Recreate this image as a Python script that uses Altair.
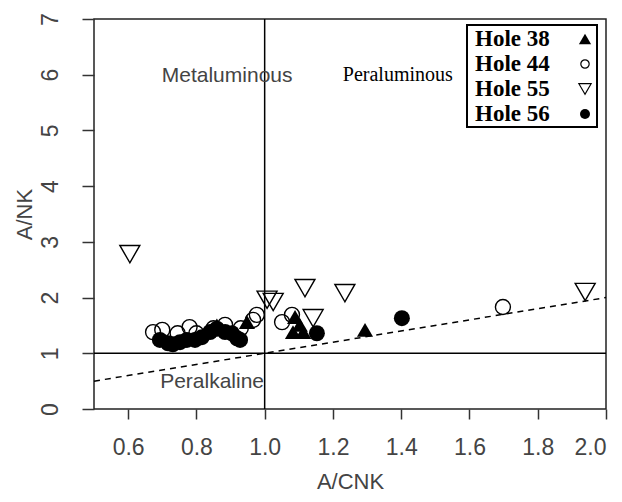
import altair as alt
import pandas as pd

# ---- data ----
hole_names = ["Hole 38", "Hole 44", "Hole 55", "Hole 56"]

x38 = [0.86, 0.948, 1.083, 1.089, 1.103, 1.113, 1.294]
y38 = [1.50, 1.56, 1.38, 1.65, 1.51, 1.38, 1.42]

x44 = [0.673, 0.70, 0.745, 0.78, 0.80, 0.85, 0.884, 0.93, 0.966, 0.977, 1.051, 1.08, 1.698]
y44 = [1.38, 1.42, 1.36, 1.47, 1.36, 1.45, 1.51, 1.45, 1.60, 1.69, 1.56, 1.69, 1.83]

x55 = [0.605, 1.007, 1.025, 1.118, 1.142, 1.235, 1.939]
y55 = [2.78, 1.96, 1.92, 2.17, 1.63, 2.08, 2.10]

x56 = [0.693, 0.717, 0.731, 0.752, 0.772, 0.796, 0.816, 0.84, 0.86, 0.884, 0.904, 0.919, 0.928, 1.153, 1.402]
y56 = [1.24, 1.18, 1.16, 1.20, 1.24, 1.24, 1.29, 1.38, 1.44, 1.38, 1.36, 1.27, 1.24, 1.36, 1.63]

ref_x = [1.0]          # vertical divider A/CNK = 1
ref_y = [1.0]          # horizontal divider A/NK = 1
diag_x = [0.5, 2.0]    # dashed line A/NK = A/CNK
diag_y = [0.5, 2.0]

label_text = ["Metaluminous", "Peraluminous", "Peralkaline"]
label_x = [0.89, 1.39, 0.846]
label_y = [5.98, 6.0, 0.48]

x_ticks = [0.6, 0.8, 1.0, 1.2, 1.4, 1.6, 1.8, 2.0]
y_ticks = [0, 1, 2, 3, 4, 5, 6, 7]

# ---- scales / axes ----
xs = alt.Scale(domain=[0.5, 2.0], nice=False, zero=False)
ys = alt.Scale(domain=[0, 7], nice=False, zero=False)

GRAY = "#444444"
xax = alt.Axis(values=x_ticks, format=".1f", title="A/CNK", grid=False, domain=False,
               tickSize=10, tickWidth=1.5, tickColor="#333333",
               labelFont="Liberation Sans", labelFontSize=23, labelColor=GRAY,
               labelPadding=17, titleFont="Liberation Sans", titleFontSize=22,
               titleFontWeight="normal", titleColor=GRAY, titlePadding=12)
yax = alt.Axis(values=y_ticks, format="d", title="A/NK", grid=False, domain=False,
               tickSize=12, tickWidth=1.5, tickColor="#333333",
               labelFont="Liberation Sans", labelFontSize=23, labelColor=GRAY,
               labelAngle=270, labelAlign="center", labelBaseline="bottom",
               labelPadding=20, titleFont="Liberation Sans", titleFontSize=22,
               titleFontWeight="normal", titleColor=GRAY, titlePadding=3)


def pts(xv, yv, shape, filled, size):
    df = pd.DataFrame({"x": xv, "y": yv})
    if filled:
        m = alt.Chart(df).mark_point(shape=shape, filled=True, color="black", size=size, opacity=1)
    else:
        m = alt.Chart(df).mark_point(shape=shape, filled=False, color="black", size=size,
                                     strokeWidth=1.4, opacity=1)
    return m.encode(x=alt.X("x:Q", scale=xs, axis=xax), y=alt.Y("y:Q", scale=ys, axis=yax))


vline = alt.Chart(pd.DataFrame({"v": ref_x})).mark_rule(color="black", strokeWidth=1.5).encode(
    x=alt.X("v:Q", scale=xs, axis=xax))
hline = alt.Chart(pd.DataFrame({"v": ref_y})).mark_rule(color="black", strokeWidth=1.5).encode(
    y=alt.Y("v:Q", scale=ys, axis=yax))
diag = alt.Chart(pd.DataFrame({"x": diag_x, "y": diag_y})).mark_line(
    color="black", strokeWidth=1.5, strokeDash=[6, 5]).encode(
    x=alt.X("x:Q", scale=xs, axis=xax), y=alt.Y("y:Q", scale=ys, axis=yax))

lab_df = pd.DataFrame({"t": label_text, "x": label_x, "y": label_y})
lab_sans = alt.Chart(lab_df).transform_filter(alt.datum.t != "Peraluminous").mark_text(
    font="Liberation Sans", fontSize=21, color=GRAY, align="center", baseline="middle").encode(
    x=alt.X("x:Q", scale=xs, axis=xax), y=alt.Y("y:Q", scale=ys, axis=yax), text="t:N")
lab_serif = alt.Chart(lab_df).transform_filter(alt.datum.t == "Peraluminous").mark_text(
    font="Liberation Serif", fontSize=20, color="black", align="center", baseline="middle").encode(
    x=alt.X("x:Q", scale=xs, axis=xax), y=alt.Y("y:Q", scale=ys, axis=yax), text="t:N")

layers = [vline, hline, diag,
          pts(x44, y44, "circle", False, 225),
          pts(x55, y55, "triangle-down", False, 400),
          pts(x38, y38, "triangle-up", True, 260),
          pts(x56, y56, "circle", True, 256),
          lab_sans, lab_serif]

# ---- legend (drawn by hand, R style: labels left, symbols right) ----
one = pd.DataFrame({"k": [0]})
layers.append(alt.Chart(one).mark_rect(fill="white", stroke="black", strokeWidth=2).encode(
    x=alt.value(373), x2=alt.value(503), y=alt.value(6), y2=alt.value(108)))
leg_shapes = [("triangle-up", True, 150), ("circle", False, 70),
              ("triangle-down", False, 150), ("circle", True, 100)]
for i, name in enumerate(hole_names):
    yy = 20 + 25 * i
    layers.append(alt.Chart(one).mark_text(
        font="Liberation Serif", fontWeight="bold", fontSize=23, color="black",
        align="left", baseline="middle").encode(
        x=alt.value(381), y=alt.value(yy), text=alt.value(name)))
    shp, fil, sz = leg_shapes[i]
    layers.append(alt.Chart(one).mark_point(
        shape=shp, filled=fil, color="black", size=sz, strokeWidth=1.2, opacity=1).encode(
        x=alt.value(491), y=alt.value(yy)))

chart = alt.layer(*layers).properties(
    width=512, height=390,
    autosize=alt.AutoSizeParams(type="none"),
    padding={"left": 86, "top": 11, "right": 6, "bottom": 85},
    background="white",
).configure_view(stroke="#222222", strokeWidth=1.5)

chart.save("out.html", embed_options={"renderer": "svg", "actions": False})
